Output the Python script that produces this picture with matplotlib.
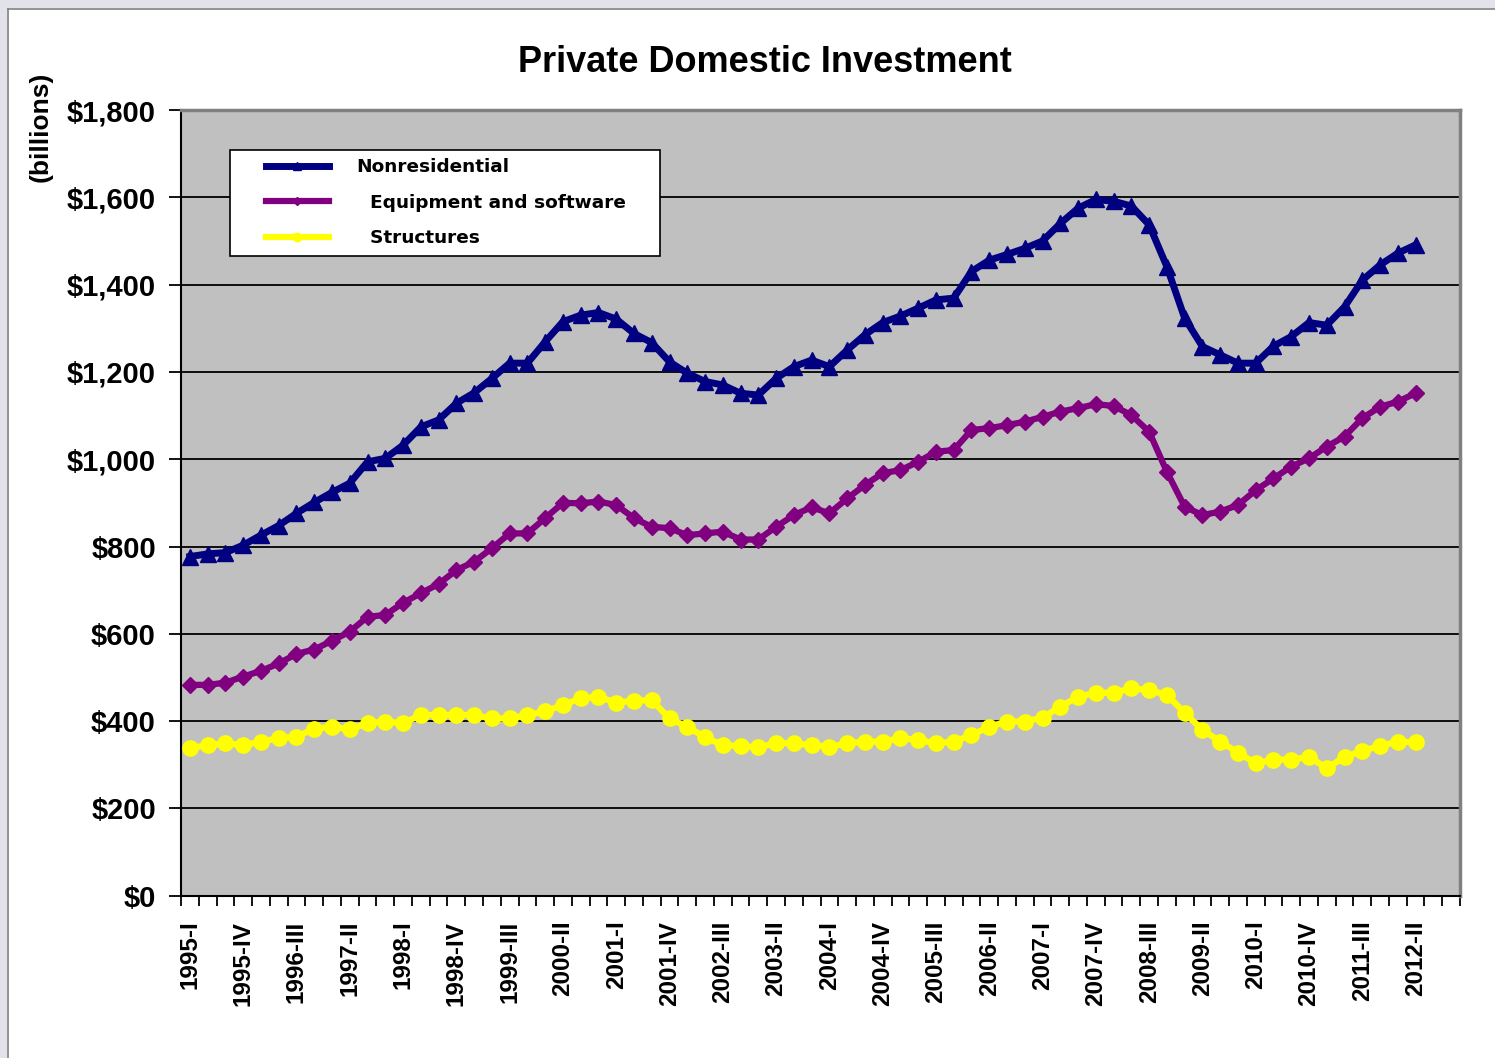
import matplotlib
matplotlib.use("Agg")
import matplotlib.pyplot as plt
from matplotlib.patches import Rectangle
from matplotlib.lines import Line2D
from matplotlib.legend_handler import HandlerLine2D
import numpy as np

# quarters 1995-I .. 2012-II
roman = ['I', 'II', 'III', 'IV']
quarters = ['%d-%s' % (1995 + k // 4, roman[k % 4]) for k in range(70)]

# values in $ billions
nonresidential = [777, 783, 786, 803, 826, 848, 876, 901, 924, 945,
                  994, 1002, 1032, 1074, 1090, 1128, 1152, 1185, 1220, 1220,
                  1269, 1315, 1330, 1336, 1321, 1288, 1267, 1223, 1197, 1178,
                  1170, 1151, 1147, 1185, 1212, 1227, 1212, 1250, 1285, 1313,
                  1328, 1346, 1365, 1369, 1430, 1456, 1469, 1483, 1500, 1540,
                  1575, 1595, 1591, 1580, 1537, 1441, 1323, 1258, 1239, 1220,
                  1220, 1259, 1281, 1313, 1307, 1349, 1410, 1445, 1472, 1491]
equipment = [483, 483, 488, 502, 515, 532, 554, 564, 584, 605,
             639, 643, 671, 693, 714, 746, 765, 796, 830, 830,
             865, 900, 899, 903, 895, 865, 845, 842, 826, 830,
             834, 816, 816, 845, 872, 890, 876, 910, 941, 968,
             975, 994, 1017, 1021, 1067, 1071, 1078, 1086, 1097, 1109,
             1117, 1126, 1122, 1101, 1063, 971, 891, 872, 880, 895,
             929, 956, 983, 1002, 1029, 1052, 1094, 1120, 1132, 1151]
structures = [338, 345, 349, 345, 353, 361, 364, 383, 387, 381,
              395, 399, 395, 414, 414, 414, 414, 406, 406, 414,
              422, 437, 452, 456, 442, 447, 448, 406, 387, 363,
              345, 343, 340, 350, 349, 345, 341, 349, 353, 353,
              361, 357, 349, 353, 368, 387, 399, 399, 408, 433,
              456, 465, 465, 475, 471, 460, 419, 380, 353, 328,
              303, 312, 312, 318, 292, 318, 332, 343, 353, 351]

n_slots = 72  # two empty category slots after the last quarter
bold = dict(family='Liberation Sans', weight='bold')


class ShiftedLine(HandlerLine2D):
    # legend handle moved right inside its box (points)
    shift = 20

    def create_artists(self, legend, orig_handle, xdescent, ydescent,
                       width, height, fontsize, trans):
        return super().create_artists(legend, orig_handle, xdescent - self.shift,
                                      ydescent, width, height, fontsize, trans)


fig = plt.figure(figsize=(14.95, 10.58), dpi=100)
fig.patch.set_facecolor('white')

# outer frame (dotted strip on top/left of the original screenshot)
fig.patches.append(Rectangle((0, 1 - 8/1058), 1, 8/1058, transform=fig.transFigure,
                             facecolor='#e2e2ea', edgecolor='none', zorder=0))
fig.patches.append(Rectangle((0, 0), 7/1495, 1, transform=fig.transFigure,
                             facecolor='#e2e2ea', edgecolor='none', zorder=0))
fig.add_artist(Line2D([8/1495, 1], [1 - 9/1058, 1 - 9/1058], transform=fig.transFigure,
                      color='#808080', lw=1.2))
fig.add_artist(Line2D([8/1495, 8/1495], [0, 1 - 9/1058], transform=fig.transFigure,
                      color='#808080', lw=1.2))

ax = fig.add_axes([181/1495, 1 - 895.7/1058, (1460 - 181)/1495, (895.7 - 110)/1058])
ax.set_facecolor('#c0c0c0')

x = np.arange(len(quarters))
ax.plot(x, nonresidential, color='#000080', lw=5, marker='^', ms=11,
        label='Nonresidential', zorder=5)
ax.plot(x, equipment, color='#800080', lw=4.5, marker='D', ms=8,
        label='  Equipment and software', zorder=5)
ax.plot(x, structures, color='#ffff00', lw=4.5, marker='o', ms=11,
        label='  Structures', zorder=5)

ax.set_xlim(-0.5, n_slots - 0.5)
ax.set_ylim(0, 1800)
ax.set_yticks(range(0, 1801, 200))
ax.set_yticklabels(['${:,}'.format(v) for v in range(0, 1801, 200)], **bold, fontsize=21)
ax.yaxis.grid(True, color='black', lw=1.3)
ax.set_axisbelow(True)
ax.tick_params(axis='y', length=9, width=1.3, pad=9, color='black')

ax.set_xticks(x[::3])
ax.set_xticklabels(quarters[::3], rotation=90, **bold, fontsize=17.5)
ax.set_xticks(np.arange(-0.5, n_slots, 1), minor=True)
ax.tick_params(axis='x', which='major', length=0, pad=18)
ax.tick_params(axis='x', which='minor', length=7, width=1.3, color='black')

for s in ['left', 'bottom']:
    ax.spines[s].set_color('black')
    ax.spines[s].set_linewidth(1.5)
for s in ['top', 'right']:
    ax.spines[s].set_color('#808080')
    ax.spines[s].set_linewidth(2.5)

leg = ax.legend(loc='upper left',
                bbox_to_anchor=(49/1279, (895.7 - 257)/785.7, 430/1279, 107/785.7),
                mode='expand', borderaxespad=0, fancybox=False, framealpha=1,
                edgecolor='black', handlelength=3.4, handletextpad=3.0,
                labelspacing=0.95, markerscale=0.55, borderpad=0.45,
                handler_map={Line2D: ShiftedLine()},
                prop=dict(family='DejaVu Sans', weight='bold', size=13.3))
leg.get_frame().set_linewidth(1.2)
leg.set_zorder(10)

fig.text(765/1495, 1 - 63/1058, 'Private Domestic Investment', ha='center', va='center',
         fontsize=26, **bold)
fig.text(41/1495, 1 - 127/1058, '(billions)', rotation=90, ha='center', va='center',
         fontsize=19, **bold)

fig.savefig('out.png', dpi=100)
